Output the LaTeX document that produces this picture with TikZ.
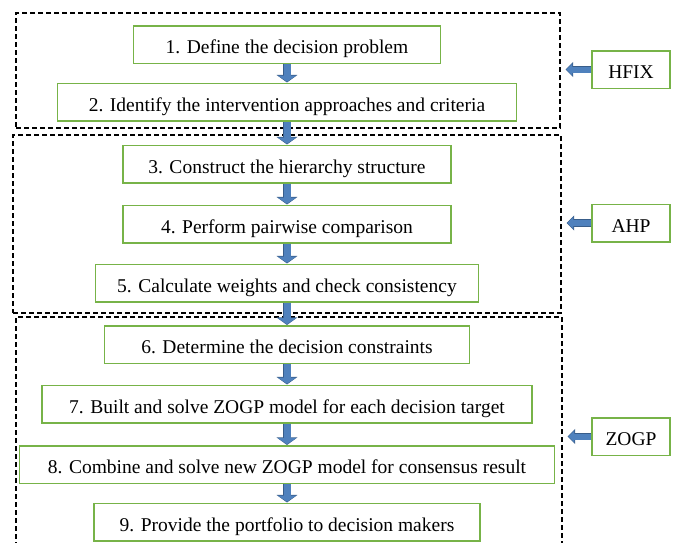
\documentclass[tikz,border=0pt]{standalone}
\usepackage{fontspec}
\setmainfont{Liberation Serif}
\usetikzlibrary{arrows.meta}
\definecolor{boxgreen}{RGB}{119,179,72}
\definecolor{arrowblue}{RGB}{79,129,189}
\definecolor{arrowedge}{RGB}{56,93,138}
\begin{document}
\begin{tikzpicture}[x=1pt, y=-1pt,
    stepbox/.style={draw=boxgreen, line width=1.5pt, inner sep=0pt, minimum height=37.5pt, text height=23pt, text depth=5pt, font=\fontsize{19.5}{23}\selectfont},
    groupbox/.style={draw=black, line width=1.2pt, dash pattern=on 5pt off 3pt, inner sep=0pt},
    downarrow/.style={draw=arrowblue, line width=7pt, -{Triangle[width=18pt,length=6pt]}, shorten >=0.8pt,
        preaction={draw=arrowedge, line width=8.6pt, -{Triangle[width=20.6pt,length=7.6pt]}, shorten >=0pt}},
    sidearrow/.style={draw=arrowblue, line width=6pt, -{Triangle[width=12pt,length=6pt]}, shorten >=5.8pt,
        preaction={draw=arrowedge, line width=7.6pt, -{Triangle[width=14.6pt,length=7.6pt]}, shorten >=5pt}}]
        \useasboundingbox (0, 0) rectangle (678, 542);
        \clip (0, 0) rectangle (678, 542);
        \node[groupbox, minimum width=544pt, minimum height=115pt] (hfixgroup) at (288, 70.5) {};
        \node[groupbox, minimum width=548pt, minimum height=178pt] (ahpgroup) at (287, 224) {};
        \node[groupbox, minimum width=546pt, minimum height=243pt] (zogpgroup) at (289, 438.5) {};
        \node[stepbox, minimum width=307pt] (define) at (287, 44.5) {1. Define the decision problem};
        \node[stepbox, minimum width=459pt] (identify) at (287, 102) {2. Identify the intervention approaches and criteria};
        \node[stepbox, minimum width=328pt] (construct) at (287, 164) {3. Construct the hierarchy structure};
        \node[stepbox, minimum width=328pt] (pairwise) at (287, 224) {4. Perform pairwise comparison};
        \node[stepbox, minimum width=383pt] (weights) at (287, 283) {5. Calculate weights and check consistency};
        \node[stepbox, minimum width=365pt] (constraints) at (287, 344.5) {6. Determine the decision constraints};
        \node[stepbox, minimum width=490pt] (build) at (287, 404) {7. Built and solve ZOGP model for each decision target};
        \node[stepbox, minimum width=535pt] (combine) at (287, 464.5) {8. Combine and solve new ZOGP model for consensus result};
        \node[stepbox, minimum width=386pt] (provide) at (287, 522) {9. Provide the portfolio to decision makers};
        \node[stepbox, minimum width=78pt] (hfix) at (631, 69.5) {HFIX};
        \node[stepbox, minimum width=78pt] (ahp) at (631, 223) {AHP};
        \node[stepbox, minimum width=78pt] (zogp) at (631, 436.5) {ZOGP};
        \draw[downarrow] (define) -- (identify);
        \draw[downarrow] (identify) -- (construct);
        \draw[downarrow] (construct) -- (pairwise);
        \draw[downarrow] (pairwise) -- (weights);
        \draw[downarrow] (weights) -- (constraints);
        \draw[downarrow] (constraints) -- (build);
        \draw[downarrow] (build) -- (combine);
        \draw[downarrow] (combine) -- (provide);
        \draw[sidearrow] (hfix) -- (hfixgroup.east |- hfix);
        \draw[sidearrow] (ahp) -- (ahpgroup.east |- ahp);
        \draw[sidearrow] (zogp) -- (zogpgroup.east |- zogp);
\end{tikzpicture}
\end{document}
